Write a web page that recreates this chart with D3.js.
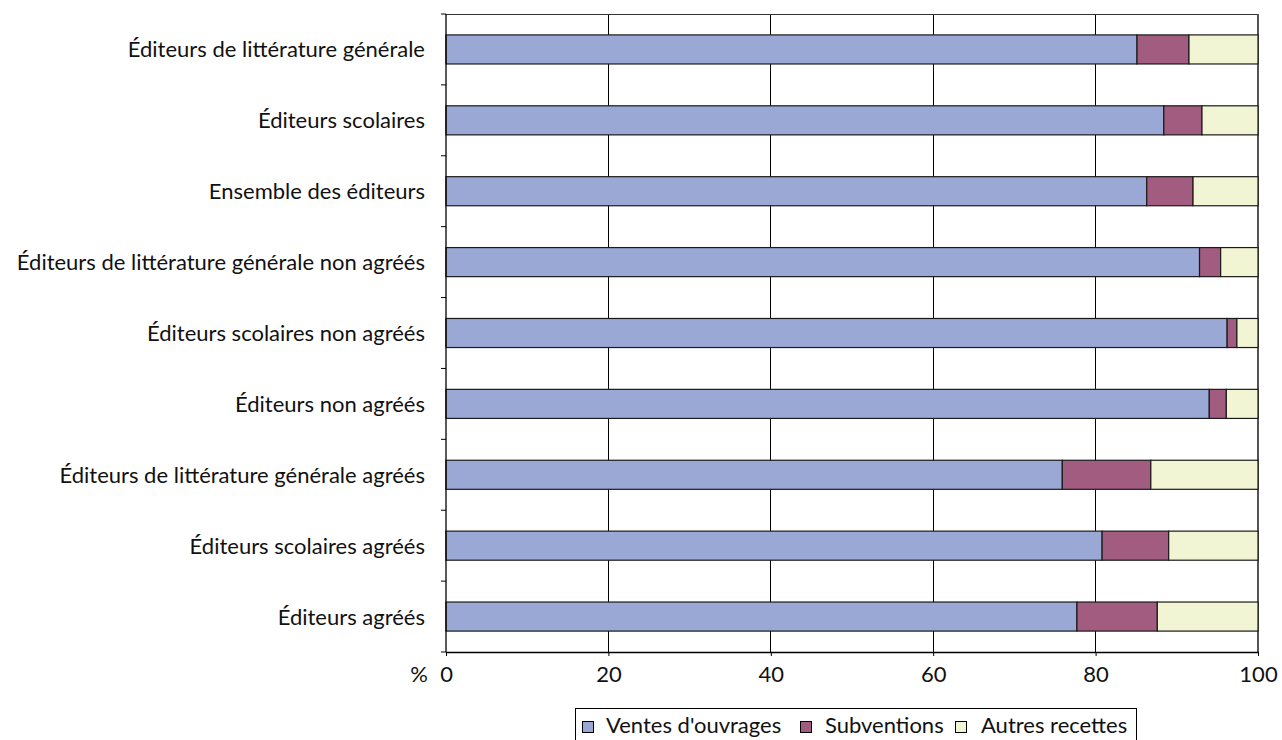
<!DOCTYPE html>
<html>
<head>
<meta charset="utf-8">
<script src="https://cdn.jsdelivr.net/npm/d3@7"></script>
<style>
  html, body { margin: 0; padding: 0; background: #fff; }
  svg { display: block; }
  text { font-family: Lato, "Noto Sans", sans-serif; fill: #111; }
</style>
</head>
<body>
<svg id="chart" width="1282" height="740"></svg>
<script>
// Categories, top to bottom
const categories = [
  "Éditeurs de littérature générale",
  "Éditeurs scolaires",
  "Ensemble des éditeurs",
  "Éditeurs de littérature générale non agréés",
  "Éditeurs scolaires non agréés",
  "Éditeurs non agréés",
  "Éditeurs de littérature générale agréés",
  "Éditeurs scolaires agréés",
  "Éditeurs agréés"
];

// Share of revenue (%) by source
const ventes      = [85.1, 88.4, 86.3, 92.8, 96.2, 94.0, 75.9, 80.8, 77.7];
const subventions = [6.4, 4.7, 5.7, 2.6, 1.2, 2.1, 10.9, 8.2, 9.9];
const autres      = [8.5, 6.9, 8.0, 4.6, 2.6, 3.9, 13.2, 11.0, 12.4];

const seriesNames  = ["Ventes d'ouvrages", "Subventions", "Autres recettes"];
const seriesColors = ["#9aa8d5", "#a15c7f", "#f1f5d3"];
const xTicks = [0, 20, 40, 60, 80, 100];

const rows = categories.map((c, i) => ({
  cat: c, "Ventes d'ouvrages": ventes[i], "Subventions": subventions[i], "Autres recettes": autres[i]
}));

const svg = d3.select("#chart");
const plotL = 446, plotR = 1258, plotT = 14, plotB = 652;
const fontSize = 22;

const x = d3.scaleLinear().domain([0, 100]).range([plotL, plotR]);
const y = d3.scaleBand().domain(categories).range([plotT, plotB])
  .paddingInner(0.59).paddingOuter(0.295);

// vertical gridlines
svg.append("g").selectAll("line").data(xTicks.slice(1, -1)).join("line")
  .attr("x1", d => x(d)).attr("x2", d => x(d))
  .attr("y1", plotT).attr("y2", plotB)
  .attr("stroke", "#000").attr("stroke-width", 1)
  .attr("shape-rendering", "crispEdges");

// plot frame (top & right)
svg.append("line").attr("x1", plotL).attr("x2", plotR).attr("y1", plotT + 0.5).attr("y2", plotT + 0.5)
  .attr("stroke", "#333").attr("stroke-width", 1);
svg.append("line").attr("x1", plotR).attr("x2", plotR).attr("y1", plotT).attr("y2", plotB)
  .attr("stroke", "#555").attr("stroke-width", 2);

// stacked bars
const stack = d3.stack().keys(seriesNames)(rows);
svg.append("g").selectAll("g").data(stack).join("g")
  .attr("fill", (d, i) => seriesColors[i])
  .selectAll("rect").data(d => d).join("rect")
  .attr("x", d => x(d[0]))
  .attr("width", d => x(d[1]) - x(d[0]))
  .attr("y", d => y(d.data.cat))
  .attr("height", y.bandwidth())
  .attr("stroke", "#1a1a1a").attr("stroke-width", 1.2);

// left axis with ticks at category boundaries
const step = y.step();
const bounds = d3.range(categories.length + 1).map(i => plotT + i * step);
const gl = svg.append("g");
gl.append("line").attr("x1", plotL).attr("x2", plotL).attr("y1", plotT).attr("y2", plotB)
  .attr("stroke", "#000").attr("stroke-width", 1.3);
gl.selectAll("line.tk").data(bounds).join("line").attr("class", "tk")
  .attr("x1", plotL - 5).attr("x2", plotL).attr("y1", d => d).attr("y2", d => d)
  .attr("stroke", "#000");
gl.selectAll("text").data(categories).join("text")
  .attr("x", 425).attr("y", d => y(d) + y.bandwidth() / 2 + 8)
  .attr("text-anchor", "end")
  .attr("font-size", fontSize).text(d => d);

// bottom axis
const xAxis = d3.axisBottom(x).tickValues(xTicks).tickSize(4).tickSizeOuter(0).tickPadding(10);
const gx = svg.append("g").attr("transform", `translate(0,${plotB})`).call(xAxis);
gx.select(".domain").attr("stroke", "#000").attr("stroke-width", 1.3);
gx.selectAll(".tick line").attr("stroke", "#000");
gx.selectAll(".tick text").attr("font-size", fontSize).attr("fill", "#111")
  .attr("font-family", "Lato, 'Noto Sans', sans-serif");
svg.append("text").attr("x", 419).attr("y", 682).attr("text-anchor", "middle")
  .attr("font-size", fontSize).text("%");

// legend
const legend = svg.append("g");
legend.append("rect").attr("x", 575.5).attr("y", 708.5).attr("width", 561).attr("height", 40)
  .attr("fill", "#fff").attr("stroke", "#000").attr("stroke-width", 1);
const legendPos = [[582, 606], [800, 825], [955, 981]];
seriesNames.forEach((name, i) => {
  legend.append("rect").attr("x", legendPos[i][0] + 0.5).attr("y", 721.5)
    .attr("width", 11).attr("height", 11)
    .attr("fill", seriesColors[i]).attr("stroke", "#000").attr("stroke-width", 1);
  legend.append("text").attr("x", legendPos[i][1]).attr("y", 733)
    .attr("font-size", fontSize).text(name);
});
</script>
</body>
</html>
